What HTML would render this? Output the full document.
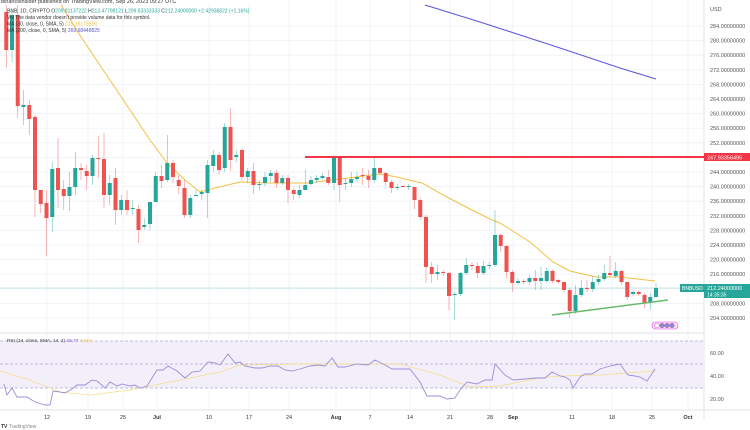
<!DOCTYPE html>
<html><head><meta charset="utf-8"><style>
html,body{margin:0;padding:0;background:#fff;width:750px;height:430px;overflow:hidden}
svg{display:block;font-family:"Liberation Sans",sans-serif}
</style></head><body>
<svg id="s" width="750" height="430" xmlns="http://www.w3.org/2000/svg"></svg>
<script>
const S=document.getElementById('s');let h='';
const dates=[[47,'12'],[88,'19'],[123,'25'],[157,'Jul'],[209,'10'],[249,'17'],[289,'24'],[336,'Aug'],[370,'7'],[410,'14'],[450,'21'],[490,'28'],[513,'Sep'],[572,'11'],[612,'18'],[652,'25'],[688,'Oct']];
dates.forEach(d=>{h+=`<line x1="${d[0]}" y1="0" x2="${d[0]}" y2="410" stroke="#f0f3fa" stroke-width="1"/>`;});
for(let p=284;p>=204;p-=4){const y=26+(284-p)*3.65;h+=`<line x1="0" y1="${y}" x2="704" y2="${y}" stroke="#f0f3fa"/>`;h+=`<text x="710" y="${y+2}" font-size="5.5" fill="#555">${p}.00000000</text>`;}
h+=`<text x="710" y="11" font-size="5.5" fill="#555">USD</text>`;
h+=`<line x1="704" y1="0" x2="704" y2="420" stroke="#e0e3eb"/>`;
h+=`<line x1="0" y1="410" x2="750" y2="410" stroke="#e0e3eb"/>`;
h+=`<line x1="0" y1="333" x2="704" y2="333" stroke="#e0e3eb"/>`;
dates.forEach(d=>{const b=/[A-Z]/.test(d[1]);h+=`<text x="${d[0]}" y="419" font-size="5.5" text-anchor="middle" fill="#333" ${b?'font-weight="bold"':''}>${d[1]}</text>`;});
h+=`<rect x="0" y="341" width="704" height="47" fill="#f2effb"/>`;
[341,364,388].forEach(y=>h+=`<line x1="0" y1="${y}" x2="704" y2="${y}" stroke="#b2a8cf" stroke-dasharray="3,2" stroke-width="0.8"/>`);
[[353,'60.00'],[376,'40.00'],[399,'20.00']].forEach(a=>h+=`<text x="710" y="${a[0]+2}" font-size="5.5" fill="#555">${a[1]}</text>`);
h+=`<line x1="0" y1="288" x2="704" y2="288" stroke="#9ecfc8" stroke-width="0.6"/>`;
h+=`<polyline fill="none" stroke="#5b56e0" stroke-width="1.1" points="425,5 480,22 560,48 620,68 656,79"/>`;
h+=`<polyline fill="none" stroke="#f2c044" stroke-width="1" points="58,0 83,40 120,95 150,140 167,163 185,180 200,192 215,188 240,182 270,183 307,183 340,179 380,174 397,177 413,181 422,183 445,196 470,209 490,219 500,223 530,242 553,262 570,271 587,275 597,277 620,277 655,281"/>`;
const C=[
[12,50,5,68],[50,15,10,62],[15,106,0,118],[107,105,90,125],[105,119,100,135],[117,190,115,217],[190,204,190,213],[203,218,190,256],[217,169,162,232],[168,190,138,208],
[189,196,180,210],[196,187,172,211],[187,168,152,195],[168,170,163,180],[171,176,165,190],[176,158,155,185],[158,159,136,178],[159,195,133,208],[195,183,175,205],[178,210,168,225],
[210,200,195,215],[200,210,190,215],[209,208,200,215],[209,230,205,243],[227,225,218,230],[224,202,202,230],[202,176,172,190],[176,181,165,188],[180,163,135,182],[163,177,160,183],
[180,186,175,194],[188,215,180,218],[215,198,195,218],[196,195,190,196],[194,192,190,200],[193,165,160,218],[166,155,150,172],[155,170,152,175],[168,127,123,172],[127,160,108,171],
[157,155,150,162],[150,177,148,180],
[177,171,168,183],[171,185,163,194],[185,184,180,190],[183,177,172,186],[176,173,170,182],[173,183,170,188],[183,178,175,185],[178,190,175,203],[190,194,188,200],[195,190,185,198],
[190,185,170,190],[184,180,176,186],[180,178,175,183],[178,176,173,180],[177,183,170,185],[183,157,155,190],[157,185,157,202],[184,183,178,190],[183,179,172,187],[179,177,172,182],
[175,176,168,185],[176,180,170,188],[180,168,158,183],[168,173,167,175],[173,182,172,186],[182,188,180,193],[188,187,184,190],[186,187,185,187.5],[187,186,184,190],[187,200,187,209],
[200,217,198,220],[217,267,215,283],[267,274,262,283],[274,272,265,280],[272,273,270,276],[273,296,272,310],[295,294,292,320],[294,273,272,296],[273,265,258,275],[265,266,262,270],
[266,273,262,278],[273,266,261,275],
[266,265,262,269],[265,235,210,267],[235,246,233,252],[246,272,245,278],[272,283,270,292],[283,281,278,285],[281,282,279,284],[282,278,275,285],[278,281,270,290],[281,278,267,290],
[281,271,268,283],[271,281,270,283],[280,282,279,284],[282,290,282,292],[290,311,288,318],[311,295,285,314],[295,288,280,297],[288,289,280,292],[289,282,276,292],[282,279,275,285],
[279,273,265,281],[273,275,256,277],[276,271,262,278],[271,282,270,285],[282,297,282,300],[294,292,290,296],[292,294,290,296],[295,303,293,308],[303,297,293,310],[297,288,283,297]];
const N=C.length;
C.forEach((c,i)=>{const x=656-5.75*(N-1-i);const up=c[1]<c[0];const col=up?'#26a69a':'#ef5350';
const t=Math.min(c[0],c[1]),b=Math.max(c[0],c[1]);
h+=`<line x1="${x}" y1="${c[2]}" x2="${x}" y2="${c[3]}" stroke="${col}" stroke-width="0.6" opacity="0.7"/>`;
h+=`<rect x="${x-2}" y="${t}" width="4" height="${Math.max(b-t,1)}" fill="${col}"/>`;});
h+=`<line x1="305" y1="157" x2="704" y2="157" stroke="#f23645" stroke-width="2"/>`;
h+=`<rect x="704" y="153" width="46" height="8" fill="#f23645"/><text x="707" y="159.5" font-size="5.5" fill="#fff">247.93356495</text>`;
h+=`<line x1="552" y1="315" x2="668" y2="300" stroke="#66bb6a" stroke-width="1.5"/>`;
h+=`<rect x="680" y="284" width="24" height="8" fill="#26a69a"/><text x="682" y="290" font-size="5" fill="#fff">BNBUSD</text>`;
h+=`<rect x="704" y="284" width="46" height="14" fill="#26a69a"/><text x="707" y="290" font-size="5.5" fill="#fff">212.24000000</text><text x="707" y="296.5" font-size="5" fill="#fff">14:35:35</text>`;
h+=`<rect x="652" y="322" width="26" height="7" rx="3.5" fill="#fde4ec" stroke="#e040fb" stroke-width="0.6"/>`;
[657,662,667,672].forEach((x,i)=>h+=`<circle cx="${x}" cy="325.5" r="2.3" fill="${i==0?'#fff':'#7b8fe8'}" stroke="${i==0?'#c040e0':'#e05080'}" stroke-width="0.5"/>`);
h+=`<polyline fill="none" stroke="#f5dc8a" stroke-width="0.8" points="0,371 30,380 60,392 90,395 130,390 170,382 220,372 240,365 300,364 400,364 440,375 470,387 500,386 540,378 560,376 600,375 656,371"/>`;
h+=`<polyline fill="none" stroke="#9c8fd8" stroke-width="0.9" points="4,384 7,395 12,388 17,397 27,397 35,402 45,405 50,405 53,391 60,392 65,393 72,389 77,385 85,385 92,380 97,381 105,388 110,382 117,386 122,384 130,386 135,385 140,388 147,386 157,370 163,370 168,366 177,371 185,378 192,372 200,371 208,362 215,363 220,365 228,354 235,363 240,362 245,366 255,368 262,368 270,366 278,366 285,370 292,371 300,369 310,366 318,365 325,366 332,358 338,367 345,367 357,364 368,365 375,360 385,365 392,369 400,369 410,369 420,382 427,396 440,396 447,399 455,398 460,390 467,382 477,384 485,380 492,380 495,364 505,375 513,380 525,379 535,378 545,378 552,372 560,376 565,377 570,380 573,388 580,377 585,374 592,374 600,369 610,366 615,365 620,364 628,375 635,376 640,377 647,381 655,369"/>`;
h+=`<text x="7" y="342" font-size="4.8" fill="#333">RSI (14, close, SMA, 14, 2) <tspan fill="#7e57c2">45.77</tspan> <tspan fill="#f2c044">43.64</tspan></text>`;
h+=`<rect x="0" y="0" width="260" height="5" fill="#fff"/>`;
h+=`<text x="1" y="3" font-size="5.5" fill="#333">binanceinsider published on TradingView.com, Sep 26, 2023 09:27 UTC</text>`;
h+=`<text x="7" y="12.5" font-size="5" fill="#333">BNB, 1D, CRYPTO  O<tspan fill="#26a69a">209.81137222</tspan> H<tspan fill="#26a69a">213.47798121</tspan> L<tspan fill="#26a69a">209.63333333</tspan> C<tspan fill="#26a69a">212.24000000 +2.42936822 (+1.16%)</tspan></text>`;
h+=`<text x="7" y="19" font-size="5" fill="#333">Vol  The data vendor doesn't provide volume data for this symbol.</text>`;
h+=`<text x="7" y="25.5" font-size="5" fill="#333">MA (30, close, 0, SMA, 5)  <tspan fill="#f2c044">215.16175556</tspan></text>`;
h+=`<text x="7" y="32" font-size="5" fill="#333">MA (200, close, 0, SMA, 5)  <tspan fill="#5b56e0">269.68448825</tspan></text>`;
h+=`<text x="1" y="428" font-size="5" fill="#333" font-weight="bold">TV <tspan font-weight="normal" fill="#888">TradingView</tspan></text>`;
S.innerHTML=h;
</script>
</body></html>
